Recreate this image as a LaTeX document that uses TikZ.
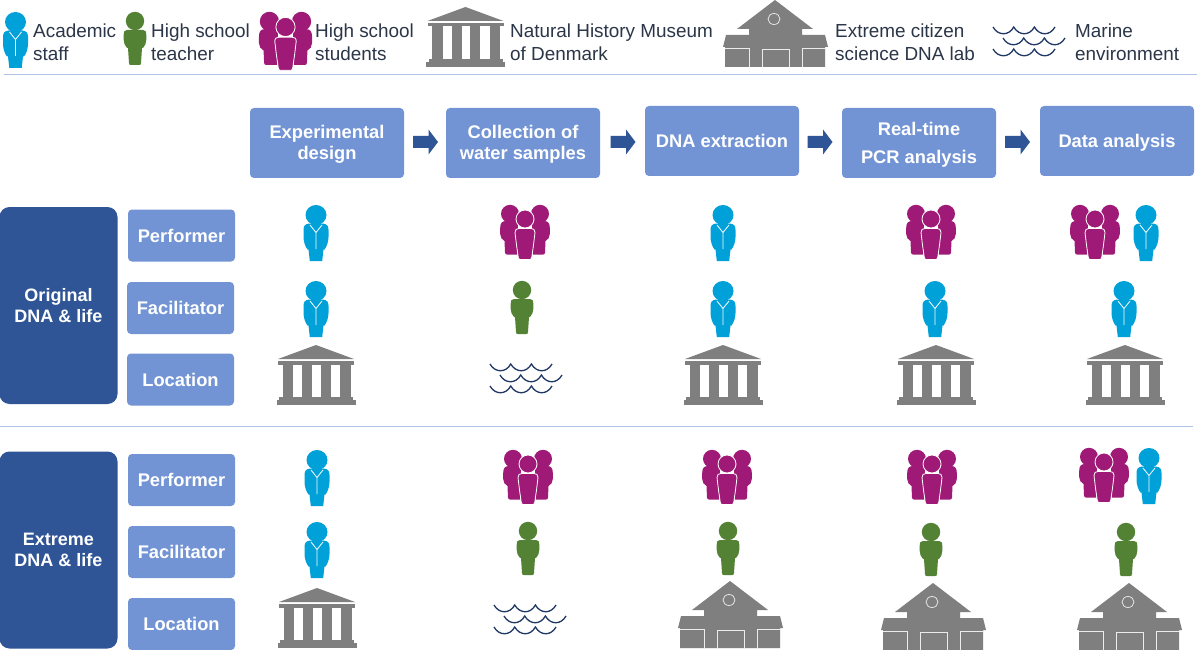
\documentclass[tikz,border=0pt]{standalone}
\usepackage{fontspec}
\setmainfont{Liberation Sans}
\definecolor{acadc}{HTML}{00A0D9}
\definecolor{teachc}{HTML}{548235}
\definecolor{studc}{HTML}{9E1A76}
\definecolor{buildc}{HTML}{7F7F7F}
\definecolor{wavec}{HTML}{1F3864}
\definecolor{boxc}{HTML}{7294D4}
\definecolor{darkc}{HTML}{2F5597}
\definecolor{rulec}{HTML}{AFC3E6}
\definecolor{legc}{HTML}{2B3648}
\newcommand{\acadbody}{(-7,18.5) .. controls (-11,19) and (-12.5,21) .. (-12.5,25) -- (-12.5,32) .. controls (-12.5,37) and (-10.5,42) .. (-8.5,44.5) -- (-7.5,44.5) -- (-6.2,56) -- (6.2,56) -- (7.5,44.5) -- (8.5,44.5) .. controls (10.5,42) and (12.5,37) .. (12.5,32) -- (12.5,25) .. controls (12.5,21) and (11,19) .. (7,18.5) -- cycle}
\newcommand{\teachbody}{(-8,18) .. controls (-10.5,18) and (-11.3,19.5) .. (-11.3,23) -- (-11.3,28) .. controls (-11.3,31) and (-10,34) .. (-8,36) -- (-7,36) -- (-6,51) .. controls (-6,53) and (-5,53) .. (-4,53) -- (4,53) .. controls (5,53) and (6,53) .. (6,51) -- (7,36) -- (8,36) .. controls (10,34) and (11.3,31) .. (11.3,28) -- (11.3,23) .. controls (11.3,19.5) and (10.5,18) .. (8,18) -- cycle}
\newcommand{\backbody}{(-19,16) .. controls (-23,16) and (-24.8,18) .. (-24.8,23) -- (-24.8,29) .. controls (-24.8,32) and (-23,35) .. (-20.5,36) -- (-20,47.5) .. controls (-20,49) and (-19,49.5) .. (-18,49.5) -- (-8,49.5) -- (-7,16) -- cycle}
\newcommand{\wave}[1]{\draw[wavec,line width=1.3pt,shift={(#1)}] (-36,0) .. controls (-31,9) and (-20,9) .. (-15.3,0) .. controls (-10,9) and (0.5,9) .. (5.4,0) .. controls (10.5,9) and (21,9) .. (26,0);}
\tikzset{
 x=1pt,y=-1pt,
 stepbox/.style={fill=boxc,rounded corners=4pt,text=white,font=\bfseries\fontsize{18.3}{21}\selectfont,align=center,inner sep=0pt,anchor=center},
 rolebox/.style={stepbox,minimum width=107pt,minimum height=52pt},
 phasebox/.style={fill=darkc,rounded corners=10pt,text=white,font=\bfseries\fontsize{18}{20.5}\selectfont,align=center,inner sep=0pt,minimum width=118pt,minimum height=197pt},
 legtext/.style={text=legc,font=\fontsize{18.9}{23}\selectfont,align=left,anchor=west,inner sep=0pt},
 rulel/.style={rulec,line width=0.9pt},
 acadicon/.pic={
  \fill[acadc] (0,10) ellipse [x radius=10.5,y radius=10];
  \fill[acadc] \acadbody;
  \draw[white,line width=0.8pt] (-6,20) -- (0,27.5) -- (6,20) (0,27.5) -- (0,44);
 },
 teachicon/.pic={
  \fill[teachc] (0,9) circle [radius=9.2];
  \fill[teachc] \teachbody;
 },
 studicon/.pic={
  \fill[studc] (-15,8.8) circle [radius=9];
  \fill[studc] (15,8.8) circle [radius=9];
  \fill[studc] \backbody;
  \begin{scope}[xscale=-1]
   \fill[studc] \backbody;
  \end{scope}
  \fill[studc,draw=white,line width=.8pt] (0,14) circle [radius=9];
  \fill[studc,draw=white,line width=.8pt] (-6,23.5) .. controls (-8.5,23.5) and (-10,24.5) .. (-10,27.5) -- (-8.5,40) -- (-6.8,52) .. controls (-6.5,53.5) and (-6,54.5) .. (-5,54.5) -- (5,54.5) .. controls (6,54.5) and (6.5,53.5) .. (6.8,52) -- (8.5,40) -- (10,27.5) .. controls (10,24.5) and (8.5,23.5) .. (6,23.5) -- cycle;
 },
 museicon/.pic={
  \fill[buildc] (0,0) -- (38,14) -- (-38,14) -- cycle;
  \fill[buildc] (-38,16) rectangle (38,19.5);
  \fill[buildc] (-33.5,19.5) rectangle (-23,52);
  \fill[buildc] (-14,19.5) rectangle (-4,52);
  \fill[buildc] (4.5,19.5) rectangle (14.5,52);
  \fill[buildc] (24,19.5) rectangle (34.5,52);
  \fill[buildc] (-37,52) rectangle (37,55);
  \fill[buildc] (-39.5,55) rectangle (39.5,60);
 },
 labicon/.pic={
  \fill[buildc] (0,0) -- (38,29) -- (27,29) -- (27,35) -- (50,35) -- (53,47) -- (50,47) -- (50,67) -- (-50,67) -- (-50,47) -- (-52,47) -- (-49,35) -- (-26,35) -- (-26,29) -- (-38,29) -- cycle;
  \draw[white!80!buildc,line width=.8pt] (-1,19) ellipse [x radius=6,y radius=5.5];
  \draw[white!85!buildc,line width=.9pt] (-50,48) -- (-26,48) -- (-26,67);
  \draw[white!85!buildc,line width=.9pt] (-13,67) -- (-13,49) -- (14,49) -- (14,67);
  \draw[white!85!buildc,line width=.9pt] (27,67) -- (27,48) -- (50,48);
 },
 waveicon/.pic={
  \wave{0,0}
  \wave{10,11}
  \wave{0,22}
 },
 arrowicon/.pic={
  \fill[darkc] (-12.5,-6) -- (3,-6) -- (3,-12.5) -- (12.5,0) -- (3,12.5) -- (3,6) -- (-12.5,6) -- cycle;
 }
}
\begin{document}
\begin{tikzpicture}
\useasboundingbox (0,0) rectangle (1200,650);
\fill[white] (0,0) rectangle (1200,650);
% legend
\pic at (15.5,12) {acadicon};
\pic at (135,12) {teachicon};
\pic[scale=1.07] at (285.5,12) {studicon};
\pic at (465.5,7) {museicon};
\pic at (775,0) {labicon};
\pic at (1029,27) {waveicon};
\node[legtext] (lega) at (33,42) {Academic\\staff};
\node[legtext] (legb) at (151,42) {High school\\teacher};
\node[legtext] (legc) at (315,42) {High school\\students};
\node[legtext] (legd) at (510,42) {Natural History Museum\\of Denmark};
\node[legtext] (lege) at (835,42) {Extreme citizen\\science DNA lab};
\node[legtext] (legf) at (1075,42) {Marine\\environment};
\draw[rulel] (4,74) -- (1197,74);
\draw[rulel] (0,426) -- (1193,426);
% steps
\node[stepbox,minimum width=154pt,minimum height=70pt,text depth=2pt] (s1) at (327,143) {Experimental\\design};
\node[stepbox,minimum width=154pt,minimum height=70pt,text depth=2pt] (s2) at (523,143) {Collection of\\water samples};
\node[stepbox,minimum width=154pt,minimum height=70pt] (s3) at (722,141) {DNA extraction};
\node[stepbox,minimum width=154pt,minimum height=70pt,font=\bfseries\fontsize{18.3}{28}\selectfont,text depth=0pt] (s4) at (919,143) {Real-time\\PCR analysis};
\node[stepbox,minimum width=154pt,minimum height=70pt,text depth=0pt] (s5) at (1117,141) {Data analysis};
\pic at (425.5,142) {arrowicon};
\pic at (623,142) {arrowicon};
\pic at (820,142) {arrowicon};
\pic at (1017.5,142) {arrowicon};
% phases
\node[phasebox] (p1) at (58.5,305.5) {Original\\DNA \& life};
\node[phasebox] (p2) at (58.5,550) {Extreme\\DNA \& life};
\node[rolebox] (r1) at (181.5,235.5) {Performer};
\node[rolebox] (r2) at (180.5,308) {Facilitator};
\node[rolebox] (r3) at (180.5,379.5) {Location};
\node[rolebox] (r4) at (181.5,480) {Performer};
\node[rolebox] (r5) at (181.5,552) {Facilitator};
\node[rolebox] (r6) at (181.5,624) {Location};
% original rows
\pic at (316,205) {acadicon};
\pic at (525,205) {studicon};
\pic at (723,205) {acadicon};
\pic at (931,205) {studicon};
\pic at (1095,205) {studicon};
\pic at (1146,205) {acadicon};
\pic at (316,281) {acadicon};
\pic at (522,281) {teachicon};
\pic at (723,281) {acadicon};
\pic at (935,281) {acadicon};
\pic at (1124,281) {acadicon};
\pic at (316,345) {museicon};
\pic at (526,364) {waveicon};
\pic at (723,345) {museicon};
\pic at (936,345) {museicon};
\pic at (1125,345) {museicon};
% extreme rows
\pic at (317,450) {acadicon};
\pic at (528,450) {studicon};
\pic at (727,450) {studicon};
\pic at (932,450) {studicon};
\pic at (1104,448) {studicon};
\pic at (1149,448) {acadicon};
\pic at (317,522) {acadicon};
\pic at (528,522) {teachicon};
\pic at (728,522) {teachicon};
\pic at (931,523) {teachicon};
\pic at (1126,523) {teachicon};
\pic at (317,588) {museicon};
\pic at (530,605) {waveicon};
\pic at (730,581) {labicon};
\pic at (933,583) {labicon};
\pic at (1129,583) {labicon};
\end{tikzpicture}
\end{document}
